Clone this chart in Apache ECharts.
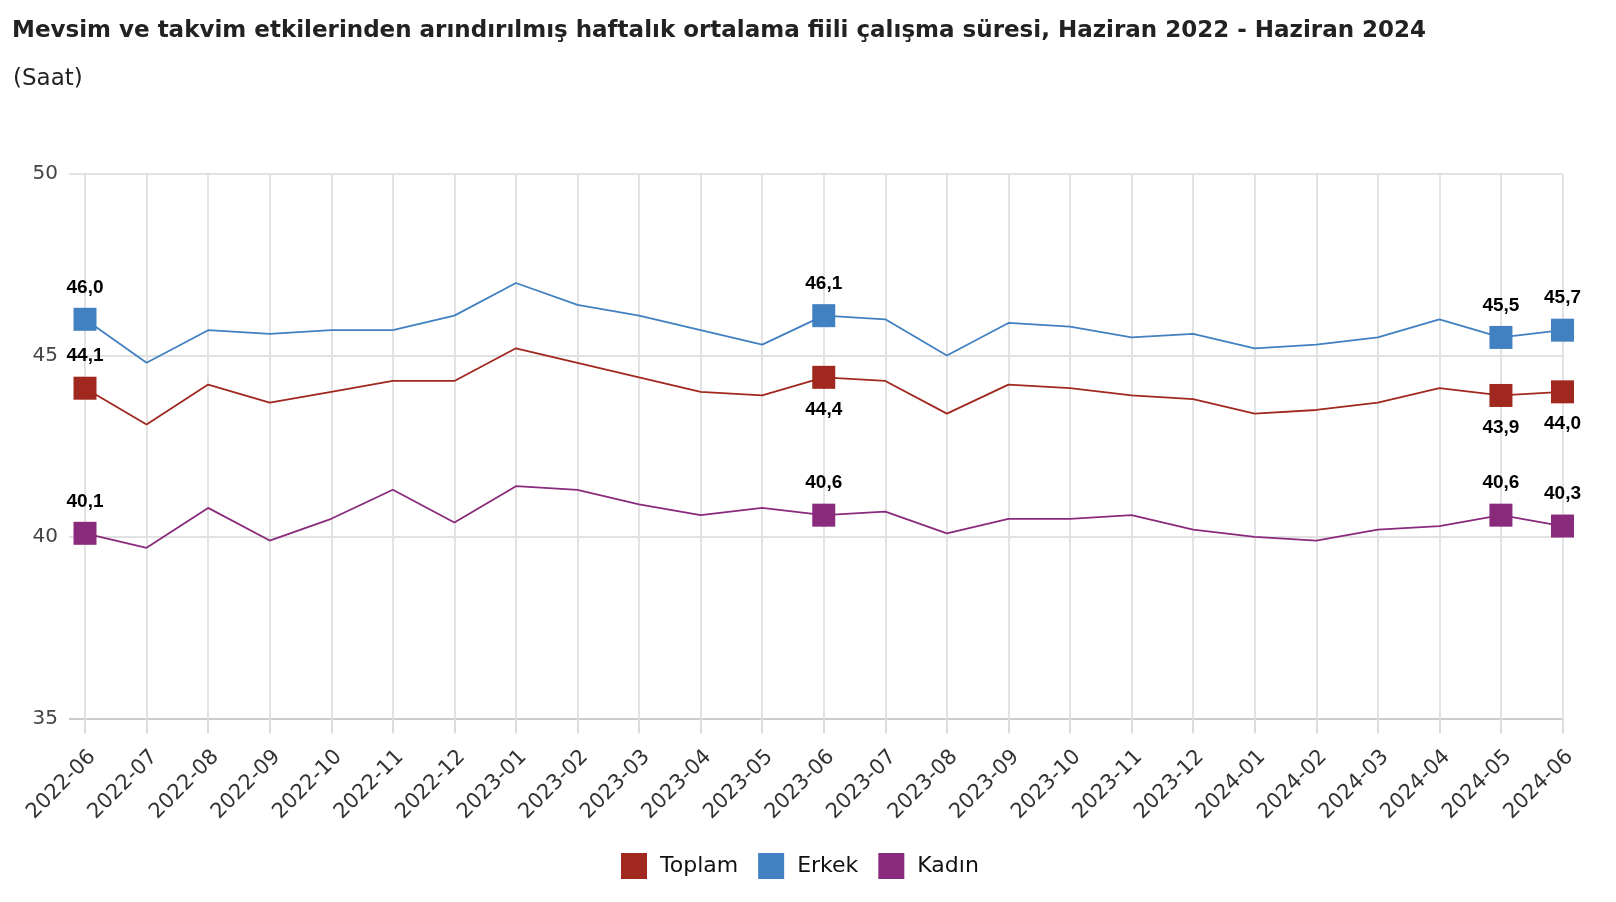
<!DOCTYPE html>
<html>
<head>
<meta charset="utf-8">
<script src="https://cdn.jsdelivr.net/npm/echarts@6/dist/echarts.min.js"></script>
<style>
html,body{margin:0;padding:0;background:#fff;}
#chart{width:1616px;height:902px;}
</style>
</head>
<body>
<div id="chart"></div>
<script>
const titleText = 'Mevsim ve takvim etkilerinden arındırılmış haftalık ortalama fiili çalışma süresi, Haziran 2022 - Haziran 2024';
const subtitleText = '(Saat)';
const categories = ['2022-06','2022-07','2022-08','2022-09','2022-10','2022-11','2022-12','2023-01','2023-02','2023-03','2023-04','2023-05','2023-06','2023-07','2023-08','2023-09','2023-10','2023-11','2023-12','2024-01','2024-02','2024-03','2024-04','2024-05','2024-06'];
const seriesNames = ['Toplam','Erkek','Kadın'];
const toplam = [44.1,43.1,44.2,43.7,44.0,44.3,44.3,45.2,44.8,44.4,44.0,43.9,44.4,44.3,43.4,44.2,44.1,43.9,43.8,43.4,43.5,43.7,44.1,43.9,44.0];
const erkek  = [46.0,44.8,45.7,45.6,45.7,45.7,46.1,47.0,46.4,46.1,45.7,45.3,46.1,46.0,45.0,45.9,45.8,45.5,45.6,45.2,45.3,45.5,46.0,45.5,45.7];
const kadin  = [40.1,39.7,40.8,39.9,40.5,41.3,40.4,41.4,41.3,40.9,40.6,40.8,40.6,40.7,40.1,40.5,40.5,40.6,40.2,40.0,39.9,40.2,40.3,40.6,40.3];
const labeledIndices = [0,12,23,24];
const yMin = 35, yMax = 50, yStep = 5;

const colors = ['#a1281f','#4180c1','#8a2a7c'];
const FONT = '"DejaVu Sans", Inter, sans-serif';
const LFONT = '"Liberation Sans", Arial, Helvetica, sans-serif';
const G = {left:85, right:53.5, top:174.2, bottom:183.7};

function fmt(v){ return v.toFixed(1).replace('.', ','); }

function makeSeries(name, values, color, labelPosFn){
  return {
    name: name,
    type: 'line',
    xAxisIndex: 0, yAxisIndex: 0,
    symbol: 'rect',
    showAllSymbol: true,
    symbolSize: function(v, p){ return labeledIndices.indexOf(p.dataIndex) >= 0 ? 23 : 0; },
    lineStyle: {color: color, width: 1.8},
    itemStyle: {color: color},
    emphasis: {disabled: true},
    data: values.map(function(v, i){
      const item = {value: v};
      if (labeledIndices.indexOf(i) >= 0) {
        item.label = {show: true, position: labelPosFn(i), distance: 11,
          formatter: function(p){ return fmt(p.value); },
          fontFamily: LFONT, fontWeight: 'bold', fontSize: 19, color: '#000'};
      }
      return item;
    }),
    z: 3
  };
}

const chart = echarts.init(document.getElementById('chart'), null, {renderer:'canvas'});
chart.setOption({
  animation: false,
  backgroundColor: '#fff',
  title: [
    {text: titleText, left: 12, top: 20, padding: 0, textStyle: {fontFamily: FONT, fontSize: 23, fontWeight: 'bold', color: '#222'}},
    {text: subtitleText, left: 13, top: 68, padding: 0, textStyle: {fontFamily: FONT, fontSize: 23, fontWeight: 'normal', color: '#222'}}
  ],
  legend: {
    bottom: 18, left: 616,
    icon: 'rect', itemWidth: 26, itemHeight: 26, itemGap: 20,
    textStyle: {fontFamily: FONT, fontSize: 22, color: '#111', padding: [0, 0, 0, 8]},
    data: seriesNames,
    selectedMode: false
  },
  grid: [
    {left: G.left, right: G.right, top: G.top, bottom: G.bottom, containLabel: false},
    {left: 69, right: G.right, top: G.top, bottom: G.bottom, containLabel: false}
  ],
  xAxis: [
    {type: 'category', gridIndex: 0, data: categories, boundaryGap: false,
     axisLine: {show: false},
     axisTick: {show: true, interval: 0, length: 15, lineStyle: {color: '#dcdcdc', width: 2}},
     splitLine: {show: true, interval: 0, lineStyle: {color: '#e2e2e2', width: 2}},
     axisLabel: {interval: 0, rotate: 45, margin: 28, fontFamily: FONT, fontSize: 21, color: '#333', verticalAlign: 'top'}
    },
    {type: 'value', gridIndex: 1, show: false, min: 0, max: 1}
  ],
  yAxis: [
    {type: 'value', gridIndex: 0, min: yMin, max: yMax, interval: yStep,
     axisLabel: {show: false}, splitLine: {show: false}, axisLine: {show: false}, axisTick: {show: false}},
    {type: 'value', gridIndex: 1, min: yMin, max: yMax, interval: yStep,
     axisLine: {show: false}, axisTick: {show: false},
     axisLabel: {margin: 11, fontFamily: FONT, fontSize: 20, color: '#444'},
     splitLine: {show: true, lineStyle: {color: ['#cbcbcb','#e2e2e2','#e2e2e2','#e2e2e2'], width: 2}}
    }
  ],
  series: [
    makeSeries(seriesNames[0], toplam, colors[0], function(i){ return i === 0 ? 'top' : 'bottom'; }),
    makeSeries(seriesNames[1], erkek, colors[1], function(){ return 'top'; }),
    makeSeries(seriesNames[2], kadin, colors[2], function(){ return 'top'; })
  ]
});
</script>
</body>
</html>
